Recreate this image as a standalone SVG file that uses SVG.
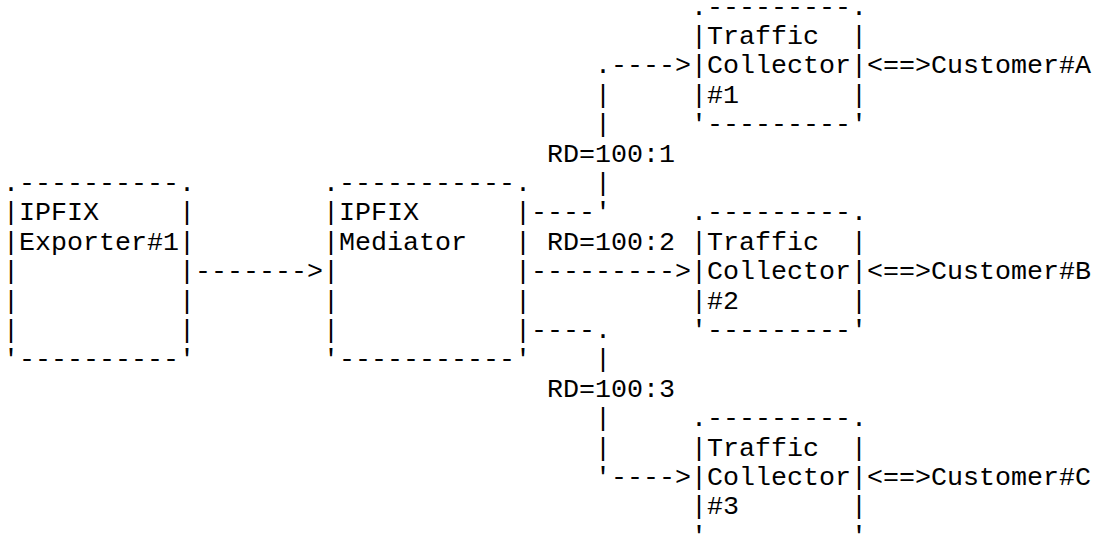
<svg xmlns="http://www.w3.org/2000/svg" width="1095" height="535" viewBox="0 0 1095 535">
<style>
text{font-family:"Liberation Mono","Courier New",monospace;font-size:26.67px;fill:#000;white-space:pre}
</style>
<rect width="1095" height="535" fill="#fff"/>
<g id="connectors">
<text x="595" y="73.4">.----&gt;</text>
<text x="595" y="102.8">|</text>
<text x="595" y="132.2">|</text>
<text x="595" y="191">|</text>
<text x="531" y="220.4">----'</text>
<text x="195" y="279.2">-------&gt;</text>
<text x="531" y="279.2">---------&gt;</text>
<text x="531" y="338">----.</text>
<text x="595" y="367.4">|</text>
<text x="595" y="426.2">|</text>
<text x="595" y="455.6">|</text>
<text x="595" y="485">'----&gt;</text>
<text x="867" y="73.4">&lt;==&gt;</text>
<text x="867" y="279.2">&lt;==&gt;</text>
<text x="867" y="485">&lt;==&gt;</text>
<text x="547" y="161.6">RD=100:1</text>
<text x="547" y="249.8">RD=100:2</text>
<text x="547" y="396.8">RD=100:3</text>
</g>
<g id="exporter">
<text x="3" y="191">.----------.</text>
<text x="3" y="220.4">|IPFIX     |</text>
<text x="3" y="249.8">|Exporter#1|</text>
<text x="3" y="279.2">|          |</text>
<text x="3" y="308.6">|          |</text>
<text x="3" y="338">|          |</text>
<text x="3" y="367.4">'----------'</text>
</g>
<g id="mediator">
<text x="323" y="191">.-----------.</text>
<text x="323" y="220.4">|IPFIX      |</text>
<text x="323" y="249.8">|Mediator   |</text>
<text x="323" y="279.2">|           |</text>
<text x="323" y="308.6">|           |</text>
<text x="323" y="338">|           |</text>
<text x="323" y="367.4">'-----------'</text>
</g>
<g id="collector1">
<text x="691" y="14.6">.---------.</text>
<text x="691" y="44">|Traffic  |</text>
<text x="691" y="73.4">|Collector|</text>
<text x="691" y="102.8">|#1       |</text>
<text x="691" y="132.2">'---------'</text>
</g>
<g id="collector2">
<text x="691" y="220.4">.---------.</text>
<text x="691" y="249.8">|Traffic  |</text>
<text x="691" y="279.2">|Collector|</text>
<text x="691" y="308.6">|#2       |</text>
<text x="691" y="338">'---------'</text>
</g>
<g id="collector3">
<text x="691" y="426.2">.---------.</text>
<text x="691" y="455.6">|Traffic  |</text>
<text x="691" y="485">|Collector|</text>
<text x="691" y="514.4">|#3       |</text>
<text x="691" y="543.8">'---------'</text>
</g>
<g id="customerA"><text x="931" y="73.4">Customer#A</text></g>
<g id="customerB"><text x="931" y="279.2">Customer#B</text></g>
<g id="customerC"><text x="931" y="485">Customer#C</text></g>
</svg>
